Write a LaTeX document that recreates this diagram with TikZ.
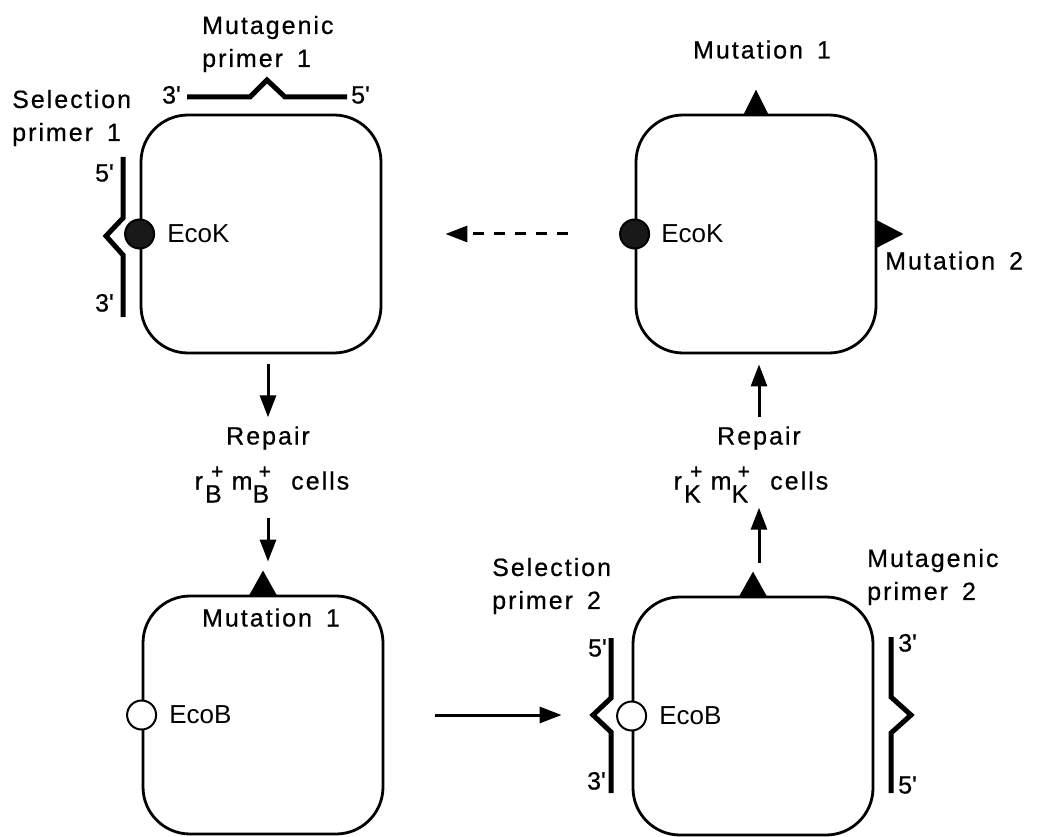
\documentclass[tikz,border=0pt]{standalone}
\usepackage{fontspec}
\setmainfont{Liberation Sans}
\newfontfamily\labfont[LetterSpace=8,FakeBold=0.6]{Liberation Sans}
\usetikzlibrary{positioning,arrows.meta}

\newcommand\gap{\hspace{14pt}}
\newcommand\prm{\textquotesingle}
\newcommand\plusidx[1]{\makebox[0pt][l]{\hspace{6pt}\raisebox{11pt}{\fontsize{21}{21}\selectfont +}}\raisebox{-13pt}{#1}}

\begin{document}
\begin{tikzpicture}[x=1pt,y=-1pt,>={Triangle[length=22pt,width=16pt]},
        plasmid/.style={rectangle,draw,line width=2.8pt,rounded corners=47pt,minimum width=240pt,minimum height=238pt,inner sep=0pt},
        ecok/.style={circle,draw,line width=2pt,fill=black!90,minimum size=29pt,inner sep=0pt},
        ecob/.style={circle,draw,line width=2pt,fill=white,minimum size=29pt,inner sep=0pt},
        lab/.style={font=\labfont\fontsize{25}{33}\selectfont,inner sep=0pt,text height=18pt,text depth=5pt},
        twolab/.style={font=\labfont\fontsize{25}{33}\selectfont,inner sep=0pt,align=left,anchor=west},
        site/.style={font=\fontsize{26}{30}\selectfont,inner sep=0pt},
        primer/.style={line width=5pt,line join=miter},
        arr/.style={->,line width=3pt}]

    \useasboundingbox (0,0) rectangle (1039,837);

    % plasmids
    \node[plasmid] (tlbox) at (261,234) {};
    \node[plasmid] (trbox) at (756,234) {};
    \node[plasmid] (blbox) at (263,715) {};
    \node[plasmid] (brbox) at (753,716) {};

    % restriction sites
    \node[ecok] (tlsite) at (tlbox.west) {};
    \node[site,right=12pt of tlsite] (tlname) {EcoK};
    \node[ecok] (trsite) at (trbox.west) {};
    \node[site,right=11pt of trsite] (trname) {EcoK};
    \node[ecob] (blsite) at (blbox.west) {};
    \node[site,right=12pt of blsite] (blname) {EcoB};
    \node[ecob] (brsite) at (brbox.west) {};
    \node[site,right=12pt of brsite] (brname) {EcoB};

    % mutations
    \fill (trbox.north) +(-12.5,1) -- +(0,-24) -- +(12.5,1) -- cycle;
    \fill (trbox.east) +(-1,-14) -- +(26,0) -- +(-1,14) -- cycle;
    \fill (blbox.north) +(-14,1) -- +(0,-24) -- +(14,1) -- cycle;
    \fill (brbox.north) +(-14,1) -- +(0,-24) -- +(14,1) -- cycle;
    \node[lab] (mutone) at (762,52) {Mutation\gap 1};
    \node[lab,anchor=west] (muttwo) at (885,263) {Mutation\gap 2};
    \node[lab] (mutbl) at (271,620) {Mutation\gap 1};

    % primers
    \draw[primer] (187,97) -- (250,97) -- (267,80) -- (285,97) -- (347,97);
    \node[lab,anchor=east] at (181,97) {3\prm};
    \node[lab,anchor=west] at (351,97) {5\prm};
    \node[twolab] (mutprimer1) at (202,44) {Mutagenic\\primer\gap 1};

    \draw[primer] (123,157) -- (123,218) -- (106,236) -- (123,255) -- (123,317);
    \node[lab,anchor=east] at (114,175) {5\prm};
    \node[lab,anchor=east] at (114,305) {3\prm};
    \node[twolab] (selprimer1) at (12,118) {Selection\\primer\gap 1};

    \draw[primer] (611,638) -- (611,698) -- (593,715) -- (611,732) -- (611,793);
    \node[lab,anchor=east] at (607,650) {5\prm};
    \node[lab,anchor=east] at (606,783) {3\prm};
    \node[twolab] (selprimer2) at (492,586) {Selection\\primer\gap 2};

    \draw[primer] (891,637) -- (891,697) -- (911,715) -- (891,733) -- (891,793);
    \node[lab,anchor=west] at (898,645) {3\prm};
    \node[lab,anchor=west] at (898,787) {5\prm};
    \node[twolab] (mutprimer2) at (867,577) {Mutagenic\\primer\gap 2};

    % repair steps
    \node[lab] (repairB) at (268,438) {Repair};
    \node[lab] (cellsB) at (272,483) {r\hspace{2pt}\plusidx{B}\hspace{10pt}m\plusidx{B}\hspace{22pt}cells};
    \node[lab] (repairK) at (759,438) {Repair};
    \node[lab] (cellsK) at (751,483) {r\hspace{2pt}\plusidx{K}\hspace{10pt}m\plusidx{K}\hspace{22pt}cells};

    \draw[arr,shorten <=10pt,shorten >=9pt] (tlbox.south -| repairB) -- (repairB.north);
    \draw[arr,shorten <=23pt,shorten >=33pt] (cellsB.south -| repairB) -- (blbox.north -| repairB);
    \draw[arr,shorten <=33pt,shorten >=13pt] (brbox.north -| repairK) -- (cellsK.south -| repairK);
    \draw[arr,shorten <=9pt,shorten >=10pt] (repairK.north) -- (trbox.south -| repairK);

    \draw[arr,dash pattern=on 11pt off 10pt,shorten <=51pt,shorten >=63pt] (trsite.west) -- (tlbox.east |- trsite);
    \draw[arr,shorten <=51pt,shorten >=70pt] (blbox.east) -- (brbox.west |- blbox.east);

\end{tikzpicture}
\end{document}
